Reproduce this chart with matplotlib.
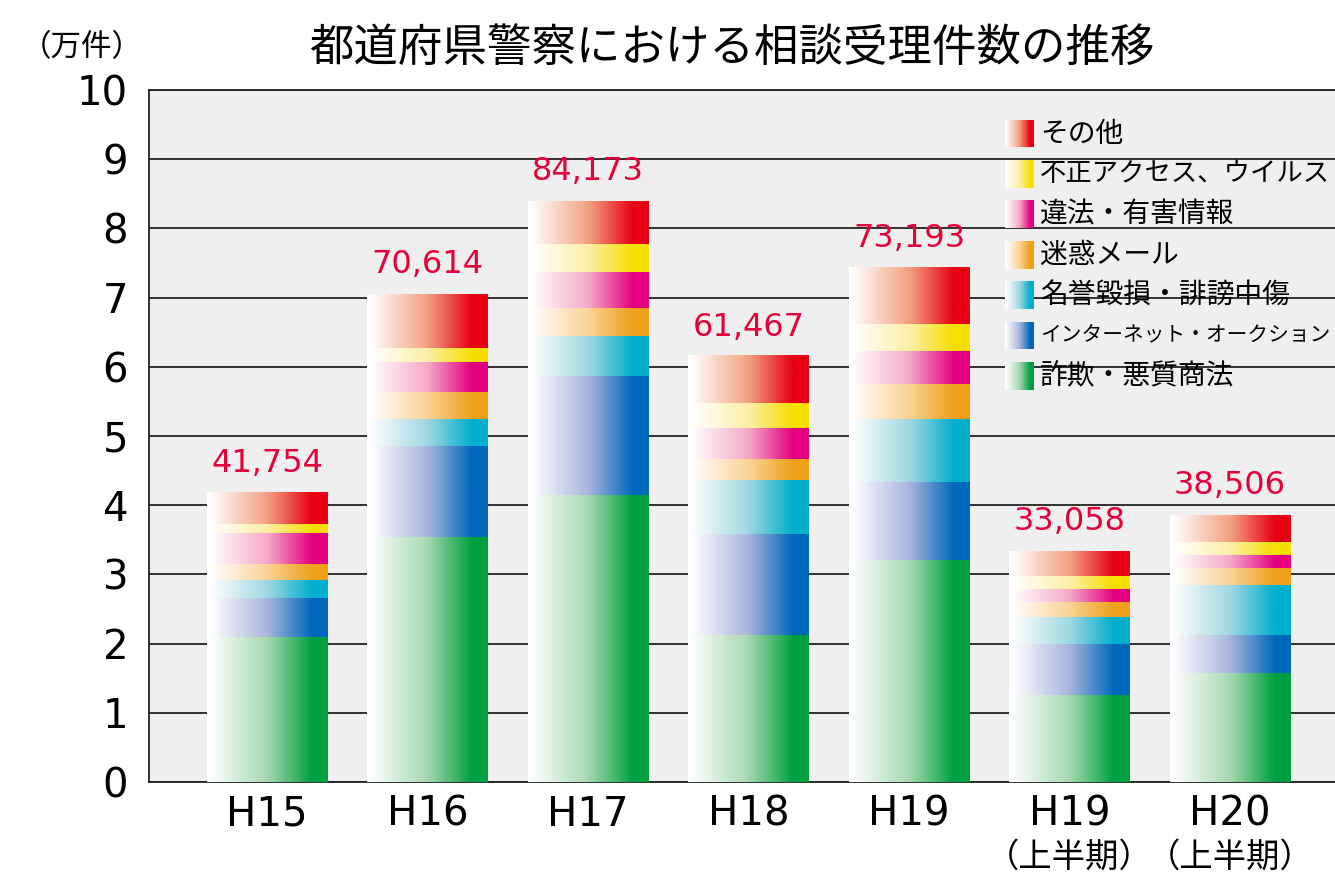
import numpy as np
import matplotlib
matplotlib.use("Agg")
import matplotlib.pyplot as plt
from matplotlib.colors import LinearSegmentedColormap

plt.rcParams['font.family'] = ['DejaVu Sans', 'Noto Sans CJK JP']

# data (unit: 10,000 cases)
years = ['H15', 'H16', 'H17', 'H18', 'H19', 'H19', 'H20']
year_sub = ['', '', '', '', '', '（上半期）', '（上半期）']
totals = [41754, 70614, 84173, 61467, 73193, 33058, 38506]

fraud = [2.09, 3.54, 4.15, 2.12, 3.21, 1.26, 1.58]
auction = [0.57, 1.31, 1.71, 1.46, 1.13, 0.74, 0.55]
defame = [0.26, 0.39, 0.58, 0.79, 0.90, 0.39, 0.71]
spam = [0.23, 0.39, 0.41, 0.30, 0.51, 0.21, 0.25]
illegal = [0.45, 0.44, 0.52, 0.44, 0.48, 0.19, 0.19]
unauth = [0.13, 0.20, 0.41, 0.36, 0.39, 0.19, 0.19]
other = [0.45, 0.78, 0.62, 0.68, 0.81, 0.36, 0.39]

series = [fraud, auction, defame, spam, illegal, unauth, other]
names = ['詐欺・悪質商法', 'インターネット・オークション', '名誉毀損・誹謗中傷',
         '迷惑メール', '違法・有害情報', '不正アクセス、ウイルス', 'その他']

# gradient colours (mid, end) for each series
grad_cols = [('#a5d8b0', '#00a040'),
             ('#a7b5dc', '#0068bb'),
             ('#a0d7e1', '#00afcc'),
             ('#f9d396', '#eea01a'),
             ('#f4a9c7', '#e4007f'),
             ('#fcefa6', '#f6df00'),
             ('#f2a180', '#e60012')]

cmaps = []
for mid, end in grad_cols:
    cmaps.append(LinearSegmentedColormap.from_list(
        'g', [(0, 'white'), (0.025, 'white'), (0.5, mid), (0.87, end), (1, end)]))

grad = np.linspace(0, 1, 256).reshape(1, -1)

fig = plt.figure(figsize=(13.35, 8.74), dpi=100)
ax = fig.add_axes([149 / 1335, 1 - 782 / 874, 1 - 149 / 1335, (782 - 90) / 874])
ax.set_facecolor('#efefef')

x = np.arange(len(years))
bottom = np.zeros(len(years))
for vals, cm in zip(series, cmaps):
    bars = ax.bar(x, vals, bottom=bottom, width=0.748, color='none', linewidth=0, zorder=3)
    for r in bars:
        ax.imshow(grad, extent=[r.get_x(), r.get_x() + r.get_width(), r.get_y(), r.get_y() + r.get_height()],
                  cmap=cm, aspect='auto', interpolation='bilinear', zorder=3)
    bottom += np.array(vals)

for xi, top, t in zip(x, bottom, totals):
    ax.annotate(f'{t:,}', (xi, top), xytext=(0, 10), textcoords='offset points',
                ha='center', va='bottom', fontsize=23, color='#e5003a')

ax.set_xlim(-0.735, 6.654)
ax.set_ylim(0, 10)
ax.set_yticks(range(11))
ax.yaxis.grid(True, color='#222222', linewidth=1.3)
ax.set_axisbelow(True)
ax.tick_params(axis='both', length=0, labelsize=29)
ax.tick_params(axis='y', pad=15)
ax.tick_params(axis='x', pad=9)
ax.set_xticks(x)
ax.set_xticklabels(years)
for xi, s in zip(x, year_sub):
    if s:
        ax.text(xi, -1.08, s, ha='center', va='center', fontsize=24,
                family=['Noto Sans CJK JP'])
for side in ['left', 'top', 'bottom']:
    ax.spines[side].set_color('#222222')
    ax.spines[side].set_linewidth(1.3)
ax.spines['right'].set_visible(False)

fig.text(732 / 1335, 1 - 48 / 874, '都道府県警察における相談受理件数の推移', ha='center', va='center',
         fontsize=32, family=['Noto Sans CJK JP'])
fig.text(82 / 1335, 1 - 48 / 874, '（万件）', ha='center', va='center', fontsize=22,
         family=['Noto Sans CJK JP'])

# legend, top to bottom: その他 ... 詐欺・悪質商法
for i, k in enumerate(range(len(names) - 1, -1, -1)):
    yc = 133.5 + 40.4 * i
    sw = fig.add_axes([1005 / 1335, 1 - (yc + 14) / 874, 28 / 1335, 28 / 874])
    sw.imshow(grad, cmap=cmaps[k], aspect='auto', interpolation='bilinear')
    sw.axis('off')
    # full-width glyphs: shrink the long names so they stay inside the figure
    fs = min(20, 290 / (len(names[k]) * 100 / 72))
    fig.text(1040 / 1335, 1 - yc / 874, names[k], ha='left', va='center', fontsize=fs,
             family=['Noto Sans CJK JP'])

fig.savefig('out.png', dpi=100, facecolor='white')
